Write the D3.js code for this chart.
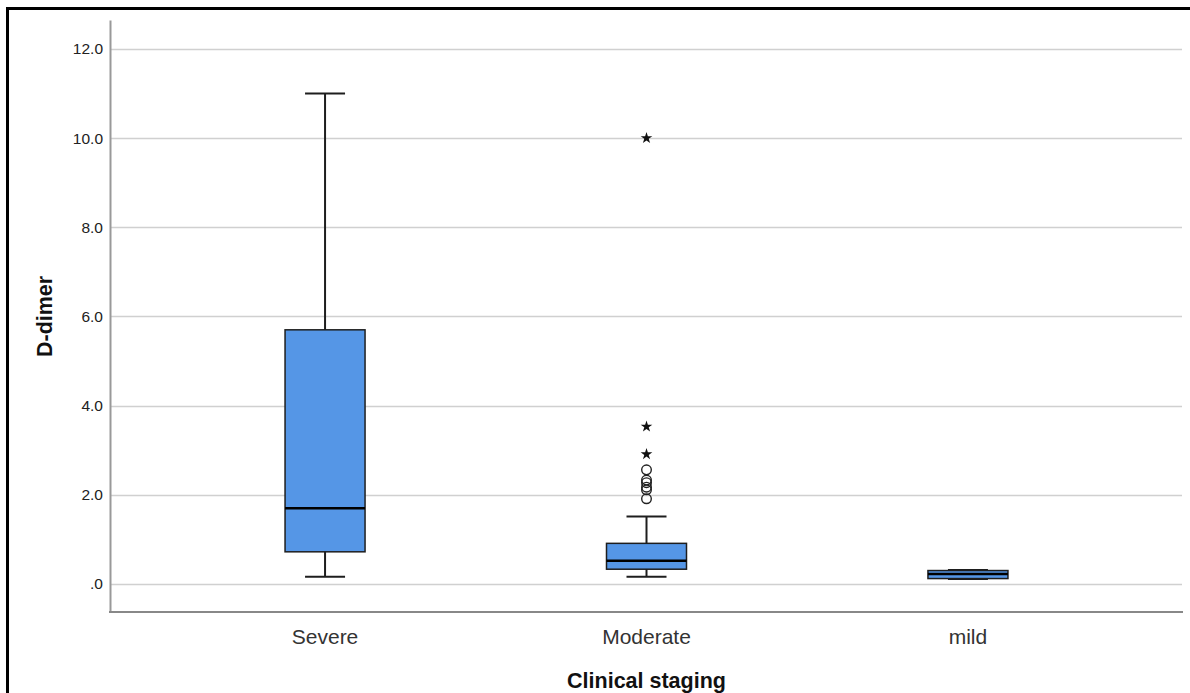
<!DOCTYPE html>
<html>
<head>
<meta charset="utf-8">
<script src="https://cdn.jsdelivr.net/npm/d3@7"></script>
<style>
  body { margin: 0; background: #fff; }
  svg text { font-family: "Liberation Sans", Arial, sans-serif; }
</style>
</head>
<body>
<div class="container"></div>
<script>
const categories = ["Severe", "Moderate", "mild"];
// five-number summaries: whisker low, q1, median, q3, whisker high
const whiskerLow = [0.16, 0.16, 0.11];
const q1 = [0.72, 0.33, 0.12];
const median = [1.70, 0.52, 0.22];
const q3 = [5.70, 0.91, 0.30];
const whiskerHigh = [11.0, 1.51, 0.31];
// outliers (circle) and extremes (star)
const outliers = [
  { cat: "Moderate", v: 2.56 },
  { cat: "Moderate", v: 2.33 },
  { cat: "Moderate", v: 2.27 },
  { cat: "Moderate", v: 2.17 },
  { cat: "Moderate", v: 2.11 },
  { cat: "Moderate", v: 1.91 },
];
const extremes = [
  { cat: "Moderate", v: 10.0 },
  { cat: "Moderate", v: 3.53 },
  { cat: "Moderate", v: 2.91 },
];
const yTicks = [0, 2, 4, 6, 8, 10, 12];

const W = 1190, H = 693;
const left = 110, right = 1183;

const y = d3.scaleLinear().domain([-0.63, 12.65]).range([612, 20]);
const x = d3.scalePoint().domain(categories).range([left, right]).padding(0.669);

const svg = d3.select(".container").append("svg")
  .attr("width", W).attr("height", H);

// outer frame
svg.append("rect")
  .attr("x", 7.5).attr("y", 8.5)
  .attr("width", W + 10).attr("height", H + 10)
  .attr("fill", "none").attr("stroke", "#000").attr("stroke-width", 3);

// gridlines
svg.append("g").selectAll("line").data(yTicks).enter().append("line")
  .attr("x1", left).attr("x2", right - 1)
  .attr("y1", d => Math.round(y(d)) + 0.5).attr("y2", d => Math.round(y(d)) + 0.5)
  .attr("stroke", "#d0d0d0").attr("stroke-width", 1.5);

// y axis
const yAxis = d3.axisLeft(y).tickValues(yTicks).tickSize(0).tickPadding(7)
  .tickFormat(d => d === 0 ? ".0" : d3.format(".1f")(d));
const gy = svg.append("g").attr("transform", `translate(${left},0)`).call(yAxis);
gy.select(".domain").attr("stroke", "#999").attr("stroke-width", 2);
gy.selectAll("text").attr("font-size", 15.5).attr("fill", "#222")
  .attr("font-family", "'Liberation Sans', Arial, sans-serif");

// x axis line
svg.append("line")
  .attr("x1", left - 1).attr("x2", right)
  .attr("y1", y.range()[0]).attr("y2", y.range()[0])
  .attr("stroke", "#888").attr("stroke-width", 2);

// category labels
svg.append("g").selectAll("text").data(categories).enter().append("text")
  .attr("x", d => x(d)).attr("y", 644)
  .attr("text-anchor", "middle").attr("font-size", 21).attr("fill", "#333")
  .text(d => d);

// axis titles
svg.append("text")
  .attr("transform", `translate(52,${(y(0) + y(12)) / 2}) rotate(-90)`)
  .attr("text-anchor", "middle").attr("font-size", 21.5).attr("font-weight", "bold")
  .attr("fill", "#111").text("D-dimer");
svg.append("text")
  .attr("x", x("Moderate")).attr("y", 688)
  .attr("text-anchor", "middle").attr("font-size", 21.5).attr("font-weight", "bold")
  .attr("fill", "#111").text("Clinical staging");

// boxes
const boxW = 80, capW = 40;
const stroke = "#1e1e1e";
const boxes = svg.append("g").selectAll("g").data(categories).enter().append("g");

boxes.append("line")
  .attr("x1", d => x(d)).attr("x2", d => x(d))
  .attr("y1", (d, i) => y(whiskerHigh[i])).attr("y2", (d, i) => y(whiskerLow[i]))
  .attr("stroke", stroke).attr("stroke-width", 2);
boxes.append("line")
  .attr("x1", d => x(d) - capW / 2).attr("x2", d => x(d) + capW / 2)
  .attr("y1", (d, i) => y(whiskerHigh[i])).attr("y2", (d, i) => y(whiskerHigh[i]))
  .attr("stroke", stroke).attr("stroke-width", 2);
boxes.append("line")
  .attr("x1", d => x(d) - capW / 2).attr("x2", d => x(d) + capW / 2)
  .attr("y1", (d, i) => y(whiskerLow[i])).attr("y2", (d, i) => y(whiskerLow[i]))
  .attr("stroke", stroke).attr("stroke-width", 2);
boxes.append("rect")
  .attr("x", d => x(d) - boxW / 2).attr("width", boxW)
  .attr("y", (d, i) => y(q3[i])).attr("height", (d, i) => y(q1[i]) - y(q3[i]))
  .attr("fill", "#5596e6").attr("stroke", stroke).attr("stroke-width", 1.5);
boxes.append("line")
  .attr("x1", d => x(d) - boxW / 2).attr("x2", d => x(d) + boxW / 2)
  .attr("y1", (d, i) => y(median[i])).attr("y2", (d, i) => y(median[i]))
  .attr("stroke", "#000").attr("stroke-width", 2.5);

// outliers
svg.append("g").selectAll("circle").data(outliers).enter().append("circle")
  .attr("cx", d => x(d.cat)).attr("cy", d => y(d.v)).attr("r", 4.8)
  .attr("fill", "none").attr("stroke", "#222").attr("stroke-width", 1.4);

svg.append("g").selectAll("path").data(extremes).enter().append("path")
  .attr("d", d3.symbol().type(d3.symbolStar).size(42))
  .attr("transform", d => `translate(${x(d.cat)},${y(d.v)})`)
  .attr("fill", "#111");
</script>
</body>
</html>
